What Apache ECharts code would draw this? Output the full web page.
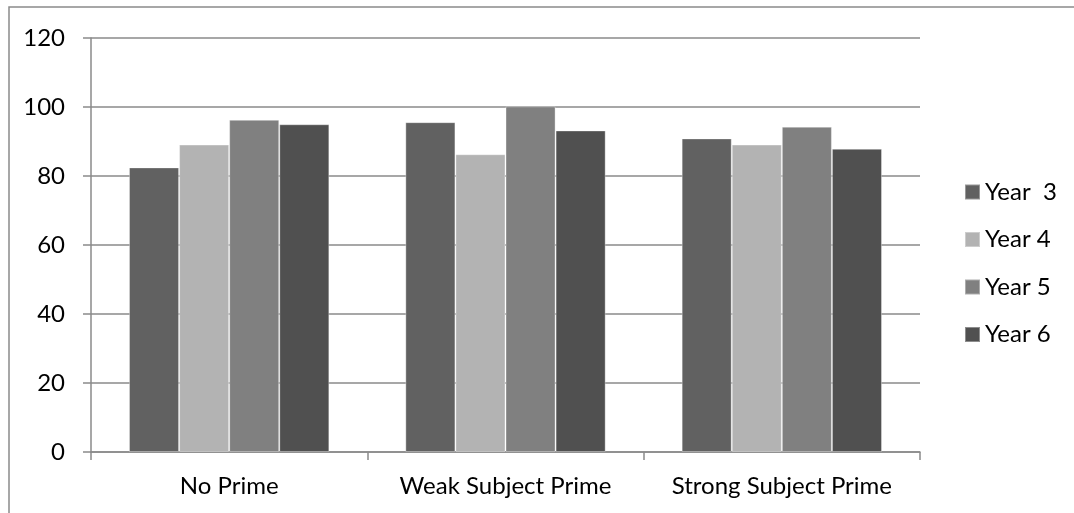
<!DOCTYPE html>
<html>
<head>
<meta charset="utf-8">
<title>Prime condition by year group</title>
<script src="https://cdn.jsdelivr.net/npm/echarts@6/dist/echarts.min.js"></script>
<style>
  html, body { margin: 0; padding: 0; background: #fff; }
  #chart { width: 1074px; height: 513px; }
</style>
</head>
<body>
<div id="chart"></div>
<script>
// Categories and series values
const categories = ['No Prime', 'Weak Subject Prime', 'Strong Subject Prime'];
const seriesNames = ['Year  3', 'Year 4', 'Year 5', 'Year 6'];
const year3 = [82.5, 95.6, 90.9];
const year4 = [89.1, 86.3, 89.1];
const year5 = [96.3, 100.2, 94.3];
const year6 = [95.0, 93.2, 87.9];
const yTicks = { min: 0, max: 120, interval: 20 };

const seriesData = [year3, year4, year5, year6];
const colors = ['#616161', '#b3b3b3', '#808080', '#505050'];
const fontFamily = 'Lato, "Open Sans", sans-serif';
const fontSize = 24;

const chart = echarts.init(document.getElementById('chart'), null, { renderer: 'canvas' });

chart.setOption({
  animation: false,
  backgroundColor: '#ffffff',
  textStyle: { fontFamily: fontFamily },
  graphic: [{
    type: 'rect',
    shape: { x: 9, y: 7, width: 1300, height: 700 },
    style: { fill: 'none', stroke: '#8a8a8a', lineWidth: 1.5 },
    silent: true,
    z: -10
  }],
  grid: { left: 91, right: 154, top: 38, bottom: 61, containLabel: false },
  legend: {
    orient: 'vertical',
    left: 964,
    top: 180,
    padding: 0,
    icon: 'rect',
    itemWidth: 15,
    itemHeight: 15,
    itemGap: 23.5,
    data: seriesNames,
    textStyle: { fontFamily: fontFamily, fontSize: fontSize, color: '#000', lineHeight: 24 }
  },
  xAxis: {
    type: 'category',
    data: categories,
    axisLine: { lineStyle: { color: '#8a8a8a', width: 1.5 } },
    axisTick: { show: true, length: 8, alignWithLabel: false, lineStyle: { color: '#8a8a8a', width: 1.5 } },
    axisLabel: { interval: 0, hideOverlap: false, margin: 22, fontSize: fontSize, color: '#000', fontFamily: fontFamily },
    splitLine: { show: false }
  },
  yAxis: {
    type: 'value',
    min: yTicks.min,
    max: yTicks.max,
    interval: yTicks.interval,
    axisLine: { show: true, lineStyle: { color: '#8a8a8a', width: 1.5 } },
    axisTick: { show: true, length: 8, lineStyle: { color: '#8a8a8a', width: 1.5 } },
    axisLabel: { margin: 26, fontSize: fontSize, color: '#000', fontFamily: fontFamily },
    splitLine: { show: true, lineStyle: { color: '#8a8a8a', width: 1.5 } }
  },
  series: seriesNames.map((name, i) => ({
    name: name,
    type: 'bar',
    data: seriesData[i],
    barGap: '0%',
    barCategoryGap: '27.5%',
    itemStyle: {
      color: colors[i],
      borderColor: 'rgba(255,255,255,0.35)',
      borderWidth: 1
    }
  }))
});
</script>
</body>
</html>
